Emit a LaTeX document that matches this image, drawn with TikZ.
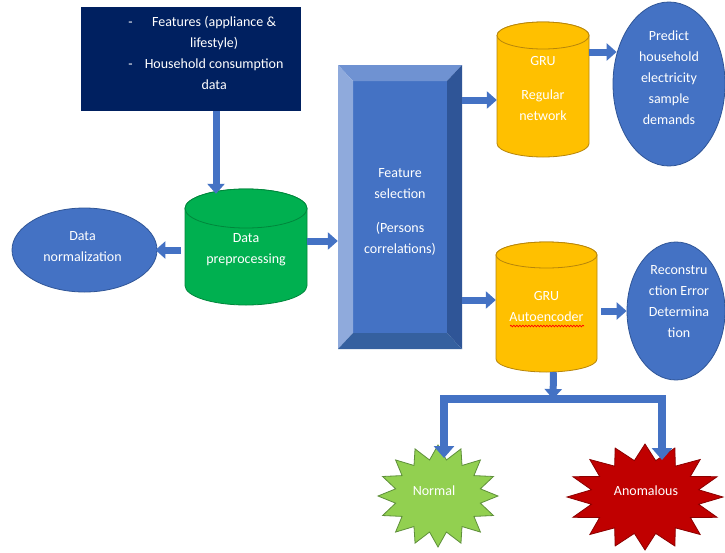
\documentclass[tikz,border=0pt]{standalone}
\usepackage{fontspec}
\setmainfont{Carlito}
\usetikzlibrary{arrows.meta,shapes.geometric,decorations.pathmorphing,calc}
\definecolor{navy}{HTML}{002060}
\definecolor{blueA}{HTML}{4472C4}
\definecolor{blueD}{HTML}{2F5597}
\definecolor{blueL}{HTML}{8FAADC}
\definecolor{blueT}{HTML}{6F92D2}
\definecolor{blueB}{HTML}{35609F}
\definecolor{greenC}{HTML}{00B050}
\definecolor{greenD}{HTML}{00873C}
\definecolor{yellowC}{HTML}{FFC000}
\definecolor{yellowD}{HTML}{B8860B}
\definecolor{starG}{HTML}{92D050}
\definecolor{starGD}{HTML}{5E8F3A}
\definecolor{redC}{HTML}{C00000}
\definecolor{redD}{HTML}{8B0000}
\newcommand\mycyl[7]{%
  \pgfmathsetmacro\cylcx{(#1+#2)/2}%
  \pgfmathsetmacro\cylrx{(#2-#1)/2}%
  \filldraw[fill=#6,draw=#7,line width=0.8pt] (#1,#3+#5) -- (#1,#4-#5)
    arc[start angle=180,end angle=360,x radius=\cylrx pt,y radius=#5pt]
    -- (#2,#3+#5)
    arc[start angle=0,end angle=180,x radius=\cylrx pt,y radius=#5pt] -- cycle;
  \filldraw[fill=#6,draw=#7,line width=0.8pt] (\cylcx,#3+#5) ellipse[x radius=\cylrx pt,y radius=#5pt];
}
\newcommand\mystar[6]{%
  \filldraw[#6] ({#1},{#2-#4})
    \foreach \k in {1,...,31}{
      -- ({#1+ifthenelse(mod(\k,2)==0,1,#5)*#3*cos(90+\k*11.25)},
          {#2-ifthenelse(mod(\k,2)==0,1,#5)*#4*sin(90+\k*11.25)})
    } -- cycle;
}
\begin{document}
\begin{tikzpicture}[x=1pt,y=-1pt,
  font=\fontsize{14}{21}\selectfont,
  txt/.style={text=white,align=center,inner sep=0pt},
  barrow/.style={draw=blueA,line width=7pt,-{Triangle[width=17pt,length=10pt]}},
  splitarrow/.style={draw=blueA,line width=8pt,{Triangle[width=20pt,length=12pt]}-{Triangle[width=20pt,length=12pt]}},
  blob/.style={ellipse,fill=blueA,draw=blueD,line width=0.8pt,inner sep=0pt}]
\useasboundingbox[fill=white] (0,0) rectangle (725,552);

% source box
\node[fill=navy,minimum width=220pt,minimum height=104pt,inner sep=0pt] (src) at (191,59) {};
\node[txt] at (206,54) {\begin{tabular}{@{}c@{\hspace{12pt}}c@{}}
- & Features (appliance \& \\
  & lifestyle) \\
- & Household consumption \\
  & data
\end{tabular}};

% data preprocessing cylinder
\mycyl{185}{307}{189}{305}{19.5}{greenC}{greenD}
\node[txt,minimum width=122pt,minimum height=110pt] (prep) at (246,250) {Data\\preprocessing};

% data normalization
\node[blob,minimum width=145pt,minimum height=84pt] (norm) at (84.5,250) {};
\node[txt] at ($(norm.center)+(-2,-3)$) {Data\\normalization};

% feature selection bevel box
\fill[blueA] (353,81) rectangle (447,333);
\fill[blueT] (338,65) -- (462,65) -- (447,81) -- (353,81) -- cycle;
\fill[blueL] (338,65) -- (353,81) -- (353,333) -- (338,349) -- cycle;
\fill[blueD] (462,65) -- (447,81) -- (447,333) -- (462,349) -- cycle;
\fill[blueB] (338,349) -- (353,333) -- (447,333) -- (462,349) -- cycle;
\node[txt,minimum width=124pt,minimum height=274pt] (bev) at (400,212) {Feature\\selection\\[13pt](Persons\\correlations)};

% GRU regular
\mycyl{497}{589}{22}{157}{13.5}{yellowC}{yellowD}
\node[txt,minimum width=92pt,minimum height=135pt] (gru1) at (543,89) {GRU\\[13pt]Regular\\network};

% GRU autoencoder
\mycyl{496}{597}{242}{372}{13}{yellowC}{yellowD}
\node[txt,minimum width=101pt,minimum height=130pt] (gru2) at (546.5,307) {GRU\\Autoencoder};
\draw[red,line width=0.7pt,decorate,decoration={snake,amplitude=0.8pt,segment length=3pt}] (510,326) -- (584,326);

% predict ellipse
\node[blob,minimum width=112pt,minimum height=164pt] (pred) at (669,84) {};
\node[txt] at ($(pred.center)+(0,-6)$) {Predict\\household\\electricity\\sample\\demands};

% reconstruction ellipse
\node[blob,minimum width=98pt,minimum height=138pt] (rec) at (676,311) {};
\node[txt] at ($(rec.center)+(3,-9)$) {Reconstru\\ction Error\\Determina\\tion};

% stars
\mystar{438}{496}{60}{51}{0.72}{fill=starG,draw=starGD,line width=0.8pt}
\node[txt] (nstar) at (434,491) {Normal};
\mystar{645}{497}{78}{53}{0.7}{fill=redC,draw=redD,line width=0.8pt}
\node[txt] (astar) at (646,491) {Anomalous};

% connectors
\draw[barrow] ([xshift=25pt]src.south) -- ([xshift=-30pt,yshift=1pt]prep.north);
\draw[barrow] ([xshift=-4pt]prep.west) -- ($(norm.east |- prep.west)+(-2,0)$);
\coordinate (pout) at ([yshift=9pt]prep.east);
\draw[barrow] (pout) -- (bev.west |- pout);
\coordinate (g1in) at ([yshift=-11pt]gru1.west);
\draw[barrow] (bev.east |- g1in) -- (g1in);
\coordinate (g2in) at ([yshift=7pt]gru2.west);
\draw[barrow] (bev.east |- g2in) -- (g2in);
\coordinate (g1out) at ([yshift=37pt]gru1.east);
\draw[barrow] (g1out) -- ($(pred.west |- g1out)+(4,0)$);
\draw[barrow] ($(gru2.east |- rec.west)+(4,0)$) -- (rec.west);
\coordinate (split) at (553,399);
\draw[barrow] ($(gru2.south)+(7,0)$) -- (split);
\coordinate (nl) at (444,458);
\coordinate (nr) at (662,460);
\draw[splitarrow] (nl) |- (split) -| (nr);
\end{tikzpicture}
\end{document}
